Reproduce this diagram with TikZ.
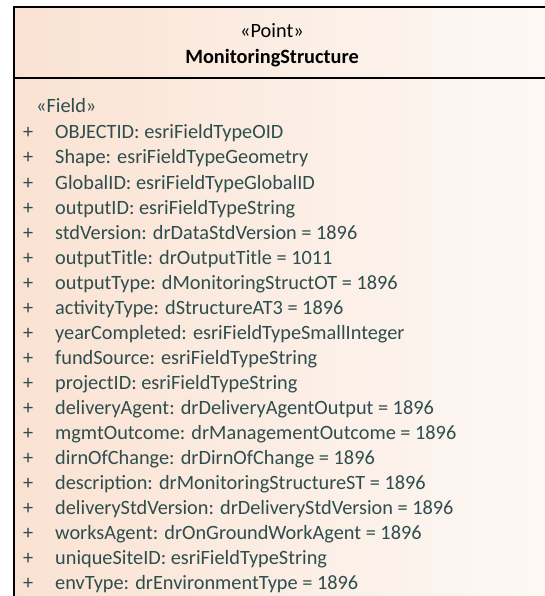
\documentclass[tikz,border=0pt]{standalone}
\usepackage{fontspec}
\setmainfont{Carlito}
\definecolor{classpeach}{HTML}{FAE2D2}
\definecolor{classlight}{HTML}{FDF9F6}
\definecolor{fieldtext}{HTML}{2E4E4E}
\begin{document}
\begin{tikzpicture}[x=1pt,y=1pt]
        \tikzstyle{every node} = [inner sep=0pt, font=\fontsize{20.3}{24}\selectfont]
        \tikzstyle{field} = [anchor=base west, text=fieldtext]
        \useasboundingbox (0,0) rectangle (544,-596);

        % class box, cut off on the right and at the bottom
        \shade[left color=classpeach, right color=classlight] (14,-7) rectangle (560,-610);
        \draw[line width=1.6pt] (560,-7) -- (14,-7) -- (14,-610);
        \draw[line width=1.6pt] (14,-78) -- (560,-78);

        \node[anchor=base](stereo) at (272,-38) {«Point»};
        \node[anchor=base, font=\fontsize{20.3}{24}\selectfont\bfseries](name) at (272,-64) {MonitoringStructure};

        \node[field](fields) at (36,-113) {«Field»};
        \foreach \f [count=\i] in {OBJECTID: esriFieldTypeOID, Shape: esriFieldTypeGeometry,
                GlobalID: esriFieldTypeGlobalID, outputID: esriFieldTypeString,
                stdVersion: drDataStdVersion = 1896, outputTitle: drOutputTitle = 1011,
                outputType: dMonitoringStructOT = 1896, activityType: dStructureAT3 = 1896,
                yearCompleted: esriFieldTypeSmallInteger, fundSource: esriFieldTypeString,
                projectID: esriFieldTypeString, deliveryAgent: drDeliveryAgentOutput = 1896,
                mgmtOutcome: drManagementOutcome = 1896, dirnOfChange: drDirnOfChange = 1896,
                description: drMonitoringStructureST = 1896, deliveryStdVersion: drDeliveryStdVersion = 1896,
                worksAgent: drOnGroundWorkAgent = 1896, uniqueSiteID: esriFieldTypeString,
                envType: drEnvironmentType = 1896} {
            \node[field](plus\i) at (23,{-114-25*\i}) {+};
            \node[field](f\i) at (55,{-114-25*\i}) {\f};
        }
    \end{tikzpicture}
\end{document}
